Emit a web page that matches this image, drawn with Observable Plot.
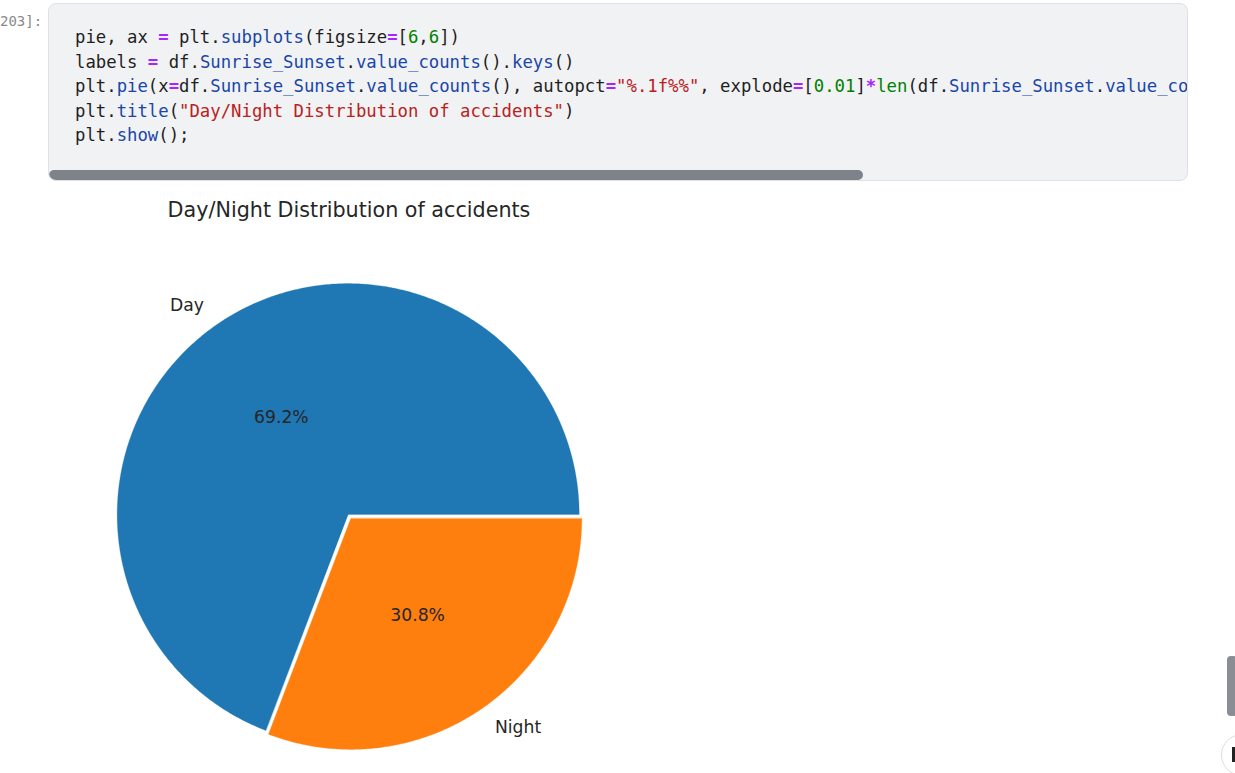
<!DOCTYPE html>
<html>
<head>
<meta charset="utf-8">
<script src="https://cdn.jsdelivr.net/npm/d3@7"></script>
<script src="https://cdn.jsdelivr.net/npm/@observablehq/plot@0.6"></script>
<style>
  html, body { margin: 0; padding: 0; background: #fff; width: 1235px; height: 773px; overflow: hidden; position: relative; }
  .prompt { position: absolute; left: 0px; top: 11px; font-family: "DejaVu Sans Mono", monospace; font-size: 14px; color: #8a8a8a; line-height: 20px; }
  .cell { position: absolute; left: 48px; top: 3px; width: 1138px; height: 176px; background: #f1f2f4; border: 1px solid #dfe1e5; border-radius: 8px; overflow: hidden; box-sizing: content-box; }
  .code { position: absolute; left: 26px; top: 21px; margin: 0; font-family: "DejaVu Sans Mono", monospace; font-size: 17.3px; line-height: 24.6px; color: #1f1f1f; white-space: pre; }
  .op { color: #aa22ff; font-weight: bold; }
  .at { color: #1a46a8; }
  .st { color: #ba2121; }
  .nu { color: #008000; }
  .bi { color: #008000; }
  .hscroll { position: absolute; left: 0px; top: 166px; width: 814px; height: 10px; background: #7e8289; border-radius: 5px; }
  .title { position: absolute; left: 0; width: 698px; top: 198px; text-align: center; font-family: "DejaVu Sans", sans-serif; font-size: 20.7px; line-height: 24px; color: #262626; }
  #chart { position: absolute; left: 0; top: 230px; }
  .vscroll { position: absolute; left: 1227px; top: 656px; width: 10px; height: 60px; background: #8a8d93; border-radius: 4px; }
  .circ { position: absolute; left: 1221px; top: 734px; width: 40px; height: 40px; border: 1px solid #dddddd; border-radius: 50%; background: #fff; }
  .circ i { position: absolute; left: 10px; top: 12px; width: 3px; height: 15px; background: #222; }
</style>
</head>
<body>
<div class="prompt">203]:</div>
<div class="cell">
<pre class="code">pie, ax <span class="op">=</span> plt.<span class="at">subplots</span>(figsize<span class="op">=</span>[<span class="nu">6</span>,<span class="nu">6</span>])
labels <span class="op">=</span> df.<span class="at">Sunrise_Sunset</span>.<span class="at">value_counts</span>().<span class="at">keys</span>()
plt.<span class="at">pie</span>(x<span class="op">=</span>df.<span class="at">Sunrise_Sunset</span>.<span class="at">value_counts</span>(), autopct<span class="op">=</span><span class="st">"%.1f%%"</span>, explode<span class="op">=</span>[<span class="nu">0.01</span>]<span class="op">*</span><span class="bi">len</span>(df.<span class="at">Sunrise_Sunset</span>.<span class="at">value_counts</span>()), labels<span class="op">=</span>labels)
plt.<span class="at">title</span>(<span class="st">"Day/Night Distribution of accidents"</span>)
plt.<span class="at">show</span>();</pre>
<div class="hscroll"></div>
</div>
<div class="title">Day/Night Distribution of accidents</div>
<div id="chart"></div>
<div class="vscroll"></div>
<div class="circ"><i></i></div>
<script>
// ---- data ----
const categories = ["Day", "Night"];
const shares = [69.2, 30.8];
const colors = ["#1f77b4", "#ff7f0e"];
const explode = [0.01, 0.01];

// ---- geometry (in units of pie radius) ----
const W = 700, H = 543, R = 231, cx = 349, cy = 286;
const total = d3.sum(shares);
const wedges = [];
const polyPts = [];
let a = 0; // start angle (east), counter-clockwise like matplotlib
shares.forEach((v, i) => {
  const span = v / total * 2 * Math.PI;
  const a0 = a, a1 = a + span, mid = (a0 + a1) / 2;
  const ox = explode[i] * Math.cos(mid), oy = explode[i] * Math.sin(mid);
  const n = Math.max(8, Math.ceil(span / (Math.PI / 360)));
  polyPts.push({cat: categories[i], x: ox, y: oy});
  for (let k = 0; k <= n; k++) {
    const t = a0 + span * k / n;
    polyPts.push({cat: categories[i], x: ox + Math.cos(t), y: oy + Math.sin(t)});
  }
  wedges.push({cat: categories[i], pct: v / total * 100, mid, ox, oy});
  a = a1;
});

const labelDist = 1.1, pctDist = 0.51;
const labels = wedges.map(w => ({
  text: w.cat,
  x: w.ox + labelDist * Math.cos(w.mid),
  y: w.oy + labelDist * Math.sin(w.mid),
  anchor: Math.cos(w.mid) < 0 ? "end" : "start"
}));
const pcts = wedges.map(w => ({
  text: d3.format(".1f")(w.pct) + "%",
  x: w.ox + pctDist * Math.cos(w.mid),
  y: w.oy + pctDist * Math.sin(w.mid)
}));

const chart = Plot.plot({
  width: W, height: H,
  marginTop: 0, marginRight: 0, marginBottom: 0, marginLeft: 0,
  x: {domain: [-cx / R, (W - cx) / R], range: [0, W], axis: null},
  y: {domain: [-(H - cy) / R, cy / R], range: [H, 0], axis: null},
  color: {domain: categories, range: colors},
  style: {fontFamily: "DejaVu Sans", background: "transparent", overflow: "visible"},
  marks: [
    Plot.line(polyPts, {x: "x", y: "y", z: "cat", fill: "cat", stroke: "cat", strokeWidth: 0.3, curve: "linear-closed"}),
    Plot.text(labels.filter(d => d.anchor === "end"), {x: "x", y: "y", text: "text", textAnchor: "end", fontSize: 17.2, fill: "#262626"}),
    Plot.text(labels.filter(d => d.anchor === "start"), {x: "x", y: "y", text: "text", textAnchor: "start", fontSize: 17.2, fill: "#262626"}),
    Plot.text(pcts, {x: "x", y: "y", text: "text", textAnchor: "middle", fontSize: 17.2, fill: "#262626"})
  ]
});
document.getElementById("chart").appendChild(chart);
</script>
</body>
</html>
